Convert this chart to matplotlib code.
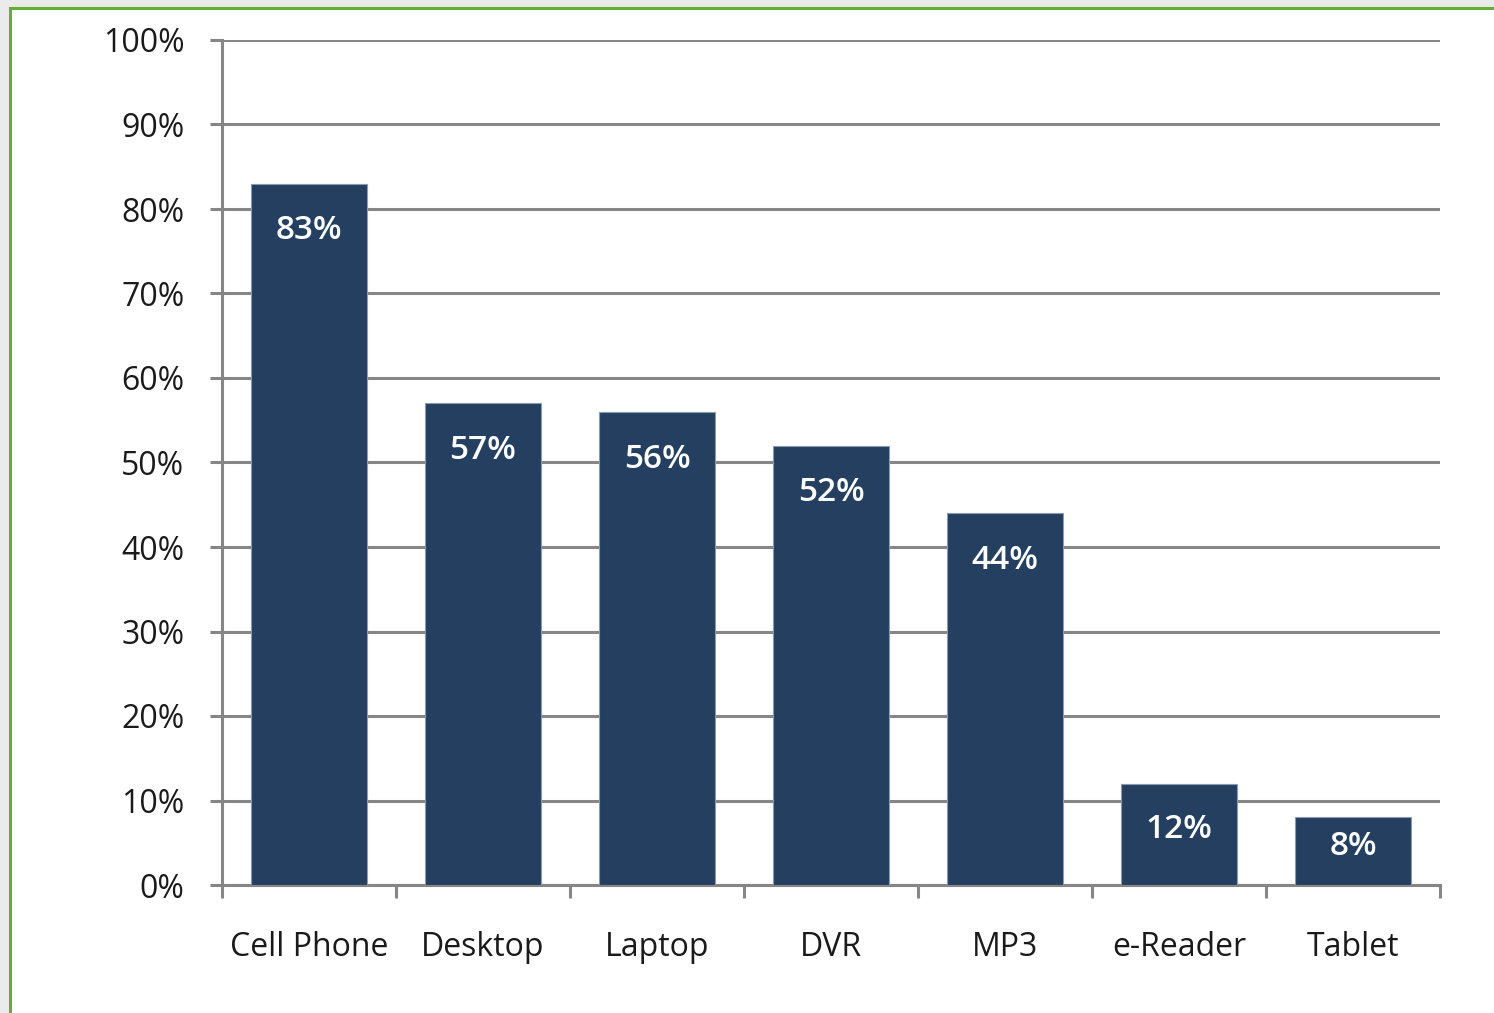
import matplotlib.pyplot as plt
from matplotlib.patches import Rectangle
from matplotlib.ticker import FixedLocator

devices = ["Cell Phone", "Desktop", "Laptop", "DVR", "MP3", "e-Reader", "Tablet"]
ownership = [83, 57, 56, 52, 44, 12, 8]
y_ticks = list(range(0, 101, 10))

BAR_COLOR = "#243f60"
GRID_COLOR = "#868686"
TEXT_COLOR = "#1a1a1a"

plt.rcParams["font.family"] = ["Open Sans", "DejaVu Sans"]

W, H = 1494, 1013
fig = plt.figure(figsize=(W / 100, H / 100), dpi=100)
fig.patch.set_facecolor("#ebebeb")

# white panel with a green frame on the top and left
panel = Rectangle((10 / W, -0.05), 1.1, (H - 8) / H + 0.05, transform=fig.transFigure,
                  facecolor="white", edgecolor="#62b03a", linewidth=2.2, zorder=0)
fig.add_artist(panel)

ax = fig.add_axes([222 / W, 1 - 885 / H, (1440 - 222) / W, (885 - 40) / H])
ax.set_facecolor("none")

x = list(range(len(devices)))
ax.bar(x, ownership, width=0.667, color=BAR_COLOR, edgecolor="#8a9bb0",
       linewidth=0.8, zorder=3)

# value labels sit just inside the top of each bar
for xi, v in zip(x, ownership):
    ly = max(v - 5.6, v / 2 + 0.6)
    ax.text(xi, ly, f"{v}%", ha="center", va="center", color="white",
            fontsize=24, fontweight="semibold", zorder=4)

ax.set_xlim(-0.5, len(devices) - 0.5)
ax.set_ylim(0, 100)

ax.set_yticks(y_ticks)
ax.set_yticklabels([f"{t}%" for t in y_ticks])
ax.yaxis.grid(True, color=GRID_COLOR, linewidth=2.2, zorder=1)
ax.set_axisbelow(True)

ax.set_xticks(x)
ax.set_xticklabels(devices)
ax.xaxis.set_minor_locator(FixedLocator([i - 0.5 for i in range(len(devices) + 1)]))

ax.tick_params(axis="y", length=9, width=2.2, color=GRID_COLOR, pad=18,
               labelsize=23, labelcolor=TEXT_COLOR)
ax.tick_params(axis="x", which="major", length=0, pad=33,
               labelsize=23, labelcolor=TEXT_COLOR)
ax.tick_params(axis="x", which="minor", length=9, width=2.2, color=GRID_COLOR)

for side in ["top", "right"]:
    ax.spines[side].set_visible(False)
for side in ["left", "bottom"]:
    ax.spines[side].set_color(GRID_COLOR)
    ax.spines[side].set_linewidth(2.2)

fig.savefig("out.png", dpi=100)
